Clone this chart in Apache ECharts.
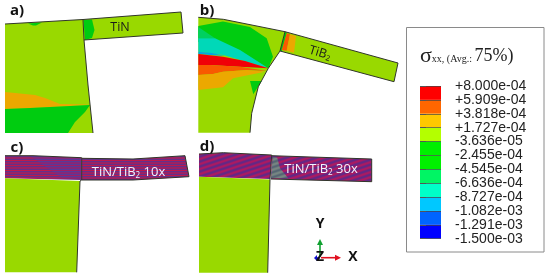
<!DOCTYPE html>
<html>
<head>
<meta charset="utf-8">
<title>Stress contours</title>
<style>
html,body{margin:0;padding:0;background:#fff}
#main{width:550px;height:280px}
</style>
</head>
<body>
<div id="main"></div>
<script src="https://cdn.jsdelivr.net/npm/echarts@6/dist/echarts.min.js"></script>
<script>
// colour bar
var tickLabels = ['+8.000e-04','+5.909e-04','+3.818e-04','+1.727e-04','-3.636e-05','-2.455e-04','-4.545e-04','-6.636e-04','-8.727e-04','-1.082e-03','-1.291e-03','-1.500e-03'];
var barLevels = ['#ff0000','#ff6600','#ffc800','#b4ff00','#00f000','#00f000','#00f564','#00ffc8','#00c8ff','#0064ff','#0000ff'];
// the same levels as they look on the shaded model
var modelLevels = ['#f00008','#f85a00','#eca800','#99d900','#00cc10','#00cc10','#00d060','#00d8b8','#00a8e0','#0064ff','#0000ff'];
var LIME = 3, GREEN = 4, GREEN2 = 6, TEAL = 7, SKY = 8, RED = 0, ORANGE = 1, YELLOW = 2;

// contour regions, [x, y]
var aBody = [[5,24],[83,19.5],[84,40],[88,85],[93,133],[5,133]];
var aFilm = [[83,19.5],[181,12],[183,33],[84,40]];
var aNotch = [[83.5,20],[92,19.5],[94.5,30],[92,38],[85,40]];
var aTopSpot = [[28,23.5],[33,25.5],[36,25.5],[42,22.5]];
var aOrange = [[5,92],[35,95],[45,98],[60,104],[90,104.5],[70,106],[30,108],[5,109]];
var aGreen = [[5,109],[30,108],[70,106],[90,105],[85,112],[75,122],[68,133],[5,133]];

var bBody = [[198.3,17.3],[223.3,19.3],[285,31.7],[280,51],[268.3,68.3],[258.3,86.7],[251.7,113.3],[250,132.7],[198.3,132.7]];
var bFilm = [[285,31.7],[398,63],[394,81.7],[280,51]];
var bGreen = [[198.3,26],[223,21.5],[250,27],[266.7,38.3],[273,56.7],[268.3,68.3],[240,56],[198.3,42]];
var bGreen2 = [[198.3,27],[215,38.3],[198.3,38.3]];
var bTeal = [[198.3,38.3],[215,38.3],[240,50],[268,68],[223,55],[198.3,51.7]];
var bSky = [[198.3,51.7],[212,53],[225,56],[210,55],[198.3,54]];
var bRed = [[198.3,54],[223,56.7],[245,61],[268.3,68.3],[240,66.7],[210,65],[198.3,65]];
var bOrange = [[198.3,65],[210,65],[240,66.7],[267.5,71],[247,70],[223,71.7],[213,74],[198.3,75]];
var bYellow = [[198.3,75],[213,74],[223,71.7],[247,70],[265,71.7],[233,78.3],[223,87.3],[198.3,90]];
var bSpot = [[250,81],[261.7,81],[253.3,94.3]];
var bFilmGreen = [[285,32],[287,32.7],[282,51],[280,51]];
var bFilmOrange = [[286.7,33.3],[290,34.3],[286.7,50.7],[281.7,50]];
var bFilmYellow = [[290,34.3],[296,36],[294,52.7],[286.7,50.7]];

var cTop = [[5,155.7],[33,155.7],[81.7,157.7],[81.7,180],[5,178.3]];
var cBody = [[5,178.3],[80,181],[76.7,272.3],[5,272.3]];
var cFilm = [[82,158.3],[133,159],[185,155.7],[189,176.7],[133,180],[81.7,180]];
var cWedge = [[30,156],[81,158],[81,179],[62,178]];

var dTop = [[199,154],[223.3,152.7],[271.7,155],[270,179],[199,176.7]];
var dBody = [[199,176.7],[270,179.5],[267.7,272.7],[199,272.7]];
var dFilm = [[271.7,155.7],[371.7,159],[371.7,181.7],[271,179]];
var dPatch = [[272.7,156.7],[277.3,157.7],[280,168.3],[288.3,178.3],[271,178.3]];

var legendBox = [[406.5,27.5],[544,27.5],[544,252],[406.5,252],[406.5,27.5]];

// fill: level number, or the name of a stripe pattern
var regions = [
  [aBody,LIME],[aFilm,LIME],[aNotch,GREEN],[aTopSpot,GREEN],[aOrange,YELLOW],[aGreen,GREEN],
  [bBody,LIME],[bFilm,LIME],[bGreen,GREEN],[bGreen2,GREEN2],[bTeal,TEAL],[bSky,SKY],[bRed,RED],[bOrange,ORANGE],[bYellow,YELLOW],[bSpot,GREEN],
  [bFilmGreen,GREEN],[bFilmOrange,ORANGE],[bFilmYellow,YELLOW],
  [cTop,'flat'],[cWedge,'flatBlue'],[cBody,LIME],[cFilm,'flat'],
  [dTop,'slant'],[dBody,LIME],[dFilm,'slant'],[dPatch,'grey']
];

// drawn edges: the cut sides of the model have none
var edgeA = [[5,24],[83,19.5],[84,40],[88,85],[93,133]];
var edgeAFilm = [[83,19.5],[181,12],[183,33],[84,40]];
var edgeB = [[198.3,17.3],[223.3,19.3],[285,31.7],[280,51],[268.3,68.3],[258.3,86.7],[251.7,113.3],[250,132.7]];
var edgeBFilm = [[285,31.7],[398,63],[394,81.7],[280,51]];
var edgeC = [[5,155.7],[33,155.7],[81.7,157.7],[81.7,180],[80,181],[76.7,272.3]];
var edgeCFilm = [[82,158.3],[133,159],[185,155.7],[189,176.7],[133,180],[81.7,180]];
var edgeD = [[199,154],[223.3,152.7],[271.7,155],[270,179],[267.7,272.7]];
var edgeDFilm = [[271.7,155.7],[371.7,159],[371.7,181.7],[271,179]];
var edges = [edgeA,edgeAFilm,edgeB,edgeBFilm,edgeC,edgeCFilm,edgeD,edgeDFilm];

var panelLabels = [['a)',17,11],['b)',207,11],['c)',17,148],['d)',207,147]];
var axisArrows = [[320,257,320,239,'#10a030'],[321,257.7,341,257.7,'#e01020'],[320,258,314,258,'#1010d0']];
var axisLabels = [['Y',320,224],['Z',320,257.5],['X',353,257.5]];

function stripes(w, h, a, b, period, c1, c2) {
  var cv = document.createElement('canvas');
  cv.width = w; cv.height = h;
  var ctx = cv.getContext('2d');
  var img = ctx.createImageData(w, h);
  for (var y = 0; y < h; y++) {
    for (var x = 0; x < w; x++) {
      var t = (x * a + y * b) / period;
      var m = 0.5 + 0.5 * Math.cos(t * 2 * Math.PI);
      var i = (y * w + x) * 4;
      for (var k = 0; k < 3; k++) img.data[i + k] = c1[k] * m + c2[k] * (1 - m);
      img.data[i + 3] = 255;
    }
  }
  ctx.putImageData(img, 0, 0);
  return {image: cv, repeat: 'repeat'};
}
var patterns = {
  flat: stripes(4, 5, 0, 1, 2.5, [190,25,75], [90,50,145]),
  flatBlue: stripes(4, 5, 0, 1, 2.5, [160,30,100], [80,60,160]),
  slant: stripes(15, 5, 1 / 3, 1, 5, [175,25,95], [95,40,135]),
  grey: stripes(15, 5, 1 / 3, 1, 5, [120,135,130], [85,100,115])
};

var titleStyle = {
  a: {fontFamily: 'Liberation Serif', fontSize: 22, fill: '#222'},
  b: {fontFamily: 'Liberation Serif', fontSize: 10, fill: '#222', padding: [6, 0, 0, 0]},
  c: {fontFamily: 'Liberation Serif', fontSize: 18, fill: '#222'}
};
var subRich = function (size, color) {
  return {
    m: {fontFamily: 'Open Sans', fontSize: size, fill: color},
    s: {fontFamily: 'Open Sans', fontSize: size * 0.62, fill: color, padding: [size * 0.5, 0, 0, 0]}
  };
};
// text, x, y, rotation, size, colour
var filmLabels = [
  ['{m|TiN}',120,27,0,12.5,'#1a1a1a'],
  ['{m|TiB}{s|2}',320,53,-0.29,12.5,'#1a1a1a'],
  ['{m|TiN/TiB}{s|2}{m| 10x}',128.5,172,0,13,'#f2f4ff'],
  ['{m|TiN/TiB}{s|2}{m| 30x}',321,169,0,13,'#f2f4ff']
];

function polyPoints(api, pts) {
  return pts.map(function (p) { return api.coord(p); });
}

var option = {
  animation: false,
  grid: [
    {left: 0, right: 0, top: 0, bottom: 0},
    {left: 420, width: 21, top: 86, height: 152.7}
  ],
  xAxis: [
    {type: 'value', min: 0, max: 550, show: false},
    {type: 'value', gridIndex: 1, min: 0, max: 1, show: false}
  ],
  yAxis: [
    {type: 'value', min: 0, max: 280, inverse: true, show: false},
    {
      type: 'value', gridIndex: 1, min: 0, max: 11, interval: 1, inverse: true, position: 'right', z: 5,
      axisLine: {show: false},
      axisTick: {show: true, length: 6, lineStyle: {color: '#555', width: 1}},
      splitLine: {show: true, lineStyle: {color: '#444', width: 1, opacity: 0.7}},
      axisLabel: {
        show: true, margin: 14, fontFamily: 'Liberation Sans', fontSize: 14, color: '#222',
        formatter: function (v) { return tickLabels[v]; }
      }
    }
  ],
  series: [
    {
      type: 'custom', coordinateSystem: 'cartesian2d', silent: true, clip: false,
      data: regions.map(function (r, i) { return [i]; }),
      renderItem: function (params, api) {
        var r = regions[params.dataIndex];
        var fill = typeof r[1] === 'number' ? modelLevels[r[1]] : patterns[r[1]];
        return {type: 'polygon', shape: {points: polyPoints(api, r[0])}, style: {fill: fill}};
      }
    },
    {
      type: 'custom', coordinateSystem: 'cartesian2d', silent: true, clip: false,
      data: edges.map(function (r, i) { return [i]; }),
      renderItem: function (params, api) {
        return {type: 'polyline', shape: {points: polyPoints(api, edges[params.dataIndex])},
          style: {fill: 'none', stroke: '#30352a', lineWidth: 1}};
      }
    },
    {
      type: 'custom', coordinateSystem: 'cartesian2d', silent: true, clip: false,
      data: [[0]],
      renderItem: function (params, api) {
        return {type: 'polyline', shape: {points: polyPoints(api, legendBox)},
          style: {fill: 'none', stroke: '#8a8a8a', lineWidth: 1}};
      }
    },
    {
      type: 'custom', coordinateSystem: 'cartesian2d', silent: true, clip: false, z: 6,
      data: filmLabels.map(function (r, i) { return [i]; }),
      renderItem: function (params, api) {
        var t = filmLabels[params.dataIndex];
        var c = api.coord([t[1], t[2]]);
        return {type: 'text', x: c[0], y: c[1], rotation: t[3],
          style: {text: t[0], rich: subRich(t[4], t[5]), align: 'center', verticalAlign: 'middle'}};
      }
    },
    {
      type: 'custom', coordinateSystem: 'cartesian2d', silent: true, clip: false, z: 6,
      data: panelLabels.map(function (r, i) { return [i]; }),
      renderItem: function (params, api) {
        var t = panelLabels[params.dataIndex];
        var c = api.coord([t[1], t[2]]);
        return {type: 'text', x: c[0], y: c[1], style: {text: t[0], fontFamily: 'Open Sans', fontWeight: 'bold',
          fontSize: 15, fill: '#111', align: 'center', verticalAlign: 'middle'}};
      }
    },
    {
      type: 'custom', coordinateSystem: 'cartesian2d', silent: true, clip: false, z: 6,
      data: axisArrows.map(function (r, i) { return [i]; }),
      renderItem: function (params, api) {
        var a = axisArrows[params.dataIndex];
        var p0 = api.coord([a[0], a[1]]), p1 = api.coord([a[2], a[3]]);
        var dx = p1[0] - p0[0], dy = p1[1] - p0[1], len = Math.sqrt(dx * dx + dy * dy);
        var ux = dx / len, uy = dy / len, head = len > 10 ? 6 : 3;
        var b = [p1[0] - ux * head, p1[1] - uy * head];
        return {type: 'group', children: [
          {type: 'line', shape: {x1: p0[0], y1: p0[1], x2: b[0], y2: b[1]}, style: {stroke: a[4], lineWidth: 1.6}},
          {type: 'polygon', shape: {points: [p1, [b[0] - uy * 3, b[1] + ux * 3], [b[0] + uy * 3, b[1] - ux * 3]]}, style: {fill: a[4]}}
        ]};
      }
    },
    {
      type: 'custom', coordinateSystem: 'cartesian2d', silent: true, clip: false, z: 7,
      data: axisLabels.map(function (r, i) { return [i]; }),
      renderItem: function (params, api) {
        var t = axisLabels[params.dataIndex];
        var c = api.coord([t[1], t[2]]);
        return {type: 'text', x: c[0], y: c[1], style: {text: t[0], fontFamily: 'Open Sans', fontWeight: 'bold',
          fontSize: 14, fill: '#111', align: 'center', verticalAlign: 'middle'}};
      }
    },
    {
      type: 'custom', coordinateSystem: 'cartesian2d', silent: true, clip: false, z: 6,
      data: [[420, 56]],
      renderItem: function (params, api) {
        var c = api.coord([api.value(0), api.value(1)]);
        return {type: 'text', x: c[0], y: c[1], style: {
          text: '{a|\u03c3}{b|xx, (Avg.: }{c|75%)}', rich: titleStyle, align: 'left', verticalAlign: 'middle'}};
      }
    },
    {
      type: 'custom', xAxisIndex: 1, yAxisIndex: 1, silent: true, clip: false, z: 2,
      data: barLevels.map(function (c, i) { return [i]; }),
      renderItem: function (params, api) {
        var i = params.dataIndex;
        var p0 = api.coord([0, i]), p1 = api.coord([1, i + 1]);
        return {type: 'rect', shape: {x: p0[0], y: p0[1], width: p1[0] - p0[0], height: p1[1] - p0[1]},
          style: {fill: barLevels[i]}};
      }
    }
  ]
};
var myChart = echarts.init(document.getElementById('main'), null, {renderer: 'canvas'});
myChart.setOption(option);
</script>
</body>
</html>
